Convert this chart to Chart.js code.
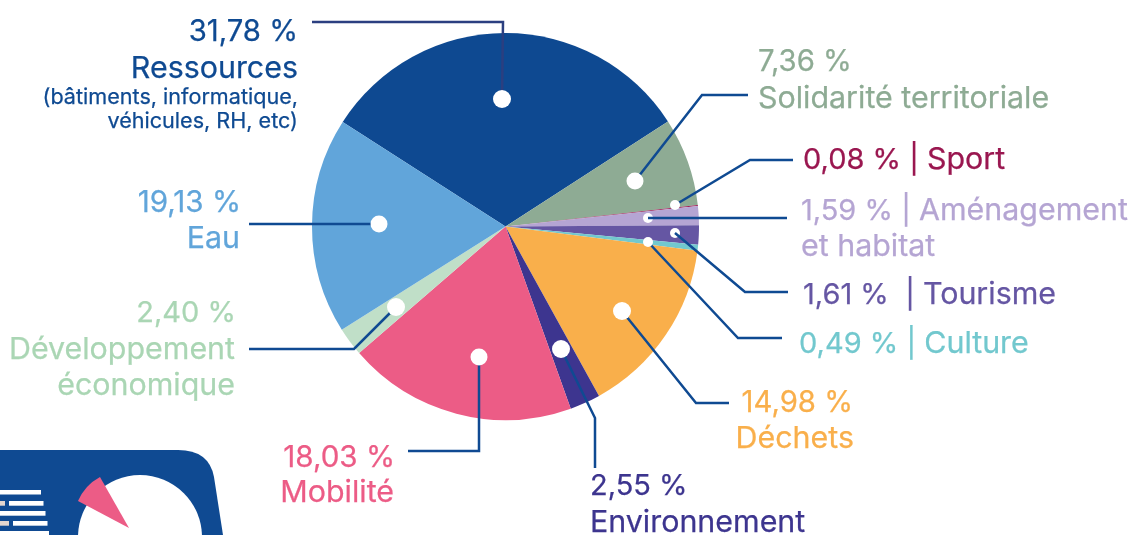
<!DOCTYPE html>
<html lang="fr">
<head>
<meta charset="utf-8">
<title>Répartition</title>
<script src="https://cdn.jsdelivr.net/npm/chart.js@4"></script>
<style>
html,body{margin:0;padding:0;background:#fff;overflow:hidden}
#wrap{position:relative;width:1132px;height:535px;overflow:hidden}
#c{position:absolute;left:0;top:0;width:1132px;height:535px}
#icon{position:absolute;left:0;top:0}
.t{position:absolute;white-space:pre;font-family:Inter,sans-serif;font-weight:400;line-height:36px;height:36px;-webkit-text-stroke:.25px currentColor}
.w{font-size:var(--ws)}
</style>
</head>
<body>
<div id="wrap">
<svg id="icon" width="1132" height="535" viewBox="0 0 1132 535">
  <path d="M0 450H178Q209 450 214 477L223 535H0Z" fill="#0F4A92"/>
  <circle cx="140" cy="537" r="62" fill="#fff"/>
  <path d="M129 528L78 501Q85 485 100 477Z" fill="#EC5C86"/>
  <g fill="#fff">
    <rect x="0" y="490" width="41" height="4.5"/>
    <rect x="9" y="501" width="34.5" height="4.7"/>
    <rect x="0" y="511" width="45.5" height="4.7"/>
    <rect x="13" y="521" width="34.5" height="4.7"/>
    <rect x="0" y="531" width="49" height="4"/>
  </g>
  <g fill="#E3D6CF">
    <rect x="0" y="501" width="5" height="4.7"/>
    <rect x="0" y="521" width="9" height="4.7"/>
  </g>
</svg>
<canvas id="c" width="1132" height="535"></canvas>
</div>
<script>
const categories = ["Ressources","Solidarité territoriale","Sport","Aménagement et habitat","Tourisme","Culture","Déchets","Environnement","Mobilité","Développement économique","Eau"];
// Slice sizes as drawn in the picture (the Mobilité and Eau slices are drawn larger/smaller than their printed labels)
const values = [31.78,7.36,0.08,1.59,1.61,0.49,14.98,2.55,19.13,2.40,18.03];
const colors = ["#0E4991","#8EAB94","#9A1750","#B5A5D3","#6556A3","#72C8CE","#F9AF4B","#3D358F","#EC5C86","#C0DFC8","#61A5DA"];
const textColors = ["#0F4A92","#8EAB94","#9A1750","#B5A5D3","#6556A3","#72C8CE","#F9AF4B","#3D358F","#EC5C86","#AAD6B4","#61A5DA"];

// Leader lines: white dot on the slice, then elbow path out to the label
const dotSizes = [9,8.5,5,5,5,5,9,9,8.5,9,8.5];
const dotsUnderLine = [3,4];
const leaderColors = ["#2B3F80","#0F4A92","#0F4A92","#0F4A92","#0F4A92","#0F4A92","#0F4A92","#0F4A92","#0F4A92","#0F4A92","#0F4A92"];
const leaders = [
  [[502,99],[503,22],[312,22]],
  [[635,181],[702,95],[748,95]],
  [[675,205],[750,160],[793,160]],
  [[648,218],[787,218]],
  [[675,233],[745,292],[788,292]],
  [[648,242],[738,338],[782,338]],
  [[622,311],[696,403],[729,403]],
  [[561,349],[595,418],[595,468]],
  [[479,357],[479,451],[408,451]],
  [[396,307],[354,349],[249,349]],
  [[379,224],[249,224]]
];

// Label lines: [text, x, baseline, align, size, colorIndex]
const labels = [
  ["31,78 %",298,42,"r",29.3,0],["Ressources",298,78,"r",30.4,0],
  ["(bâtiments, informatique,",298,104,"r",21.6,0],["véhicules, RH, etc)",298,128,"r",21.6,0],
  ["7,36 %",758,72,"l",29.3,1],["Solidarité territoriale",758,108,"l",30.4,1],
  ["0,08 % | Sport",803,169,"l",29,2],
  ["1,59 % | Aménagement",801,220,"l",29,3],["et habitat",801,256,"l",30.4,3],
  ["1,61 %  | Tourisme",803,304,"l",29,4],
  ["0,49 % | Culture",799,353,"l",29,5],
  ["14,98 %",853,413,"r",29.3,6],["Déchets",854,448,"r",30.4,6],
  ["2,55 %",590,496,"l",29,7],["Environnement",590,532,"l",30.4,7],
  ["18,03 %",395,467,"r",29.6,8],["Mobilité",394,502,"r",30.4,8],
  ["2,40 %",236,323,"r",29,9],["Développement",235,359,"r",30.4,9],["économique",235,395,"r",30.4,9],
  ["19,13 %",241,212,"r",29.6,10],["Eau",240,248,"r",30.4,10]
];

const leaderPlugin = {
  id: "leaders",
  afterDatasetsDraw(chart) {
    const ctx = chart.ctx;
    const dot = (p, r) => {
      ctx.fillStyle = "#fff";
      ctx.beginPath();
      ctx.arc(p[0], p[1], r, 0, Math.PI * 2);
      ctx.fill();
    };
    ctx.save();
    ctx.lineWidth = 2.5;
    ctx.lineJoin = "miter";
    dotsUnderLine.forEach(i => dot(leaders[i][0], dotSizes[i]));
    leaders.forEach((path, k) => {
      ctx.strokeStyle = leaderColors[k];
      ctx.beginPath();
      path.forEach((p, i) => i ? ctx.lineTo(p[0], p[1]) : ctx.moveTo(p[0], p[1]));
      ctx.stroke();
    });
    leaders.forEach((path, i) => {
      if (!dotsUnderLine.includes(i)) dot(path[0], dotSizes[i]);
    });
    ctx.restore();
  }
};

new Chart(document.getElementById("c"), {
  type: "pie",
  data: { labels: categories, datasets: [{ data: values, backgroundColor: colors, borderWidth: 0 }] },
  options: {
    responsive: false,
    animation: false,
    rotation: -57.3,
    layout: { padding: { left: 312, right: 433, top: 33, bottom: 115 } },
    plugins: { legend: { display: false }, tooltip: { enabled: false } }
  },
  plugins: [leaderPlugin]
});

const wrap = document.getElementById("wrap");
labels.forEach(([text, x, base, align, size, ci]) => {
  const d = document.createElement("div");
  d.className = "t";
  d.style.setProperty("--ws", "30.4px");
  const bar = text.indexOf("| ");
  if (bar >= 0) {
    d.appendChild(document.createTextNode(text.slice(0, bar + 2)));
    const s = document.createElement("span");
    s.className = "w";
    s.textContent = text.slice(bar + 2);
    d.appendChild(s);
  } else {
    d.textContent = text;
  }
  d.style.fontSize = size + "px";
  d.style.color = textColors[ci];
  d.style.top = (base - (18 + 0.364 * size)) + "px";
  if (align === "r") d.style.right = (1132 - x) + "px";
  else d.style.left = x + "px";
  wrap.appendChild(d);
});
</script>
</body>
</html>
